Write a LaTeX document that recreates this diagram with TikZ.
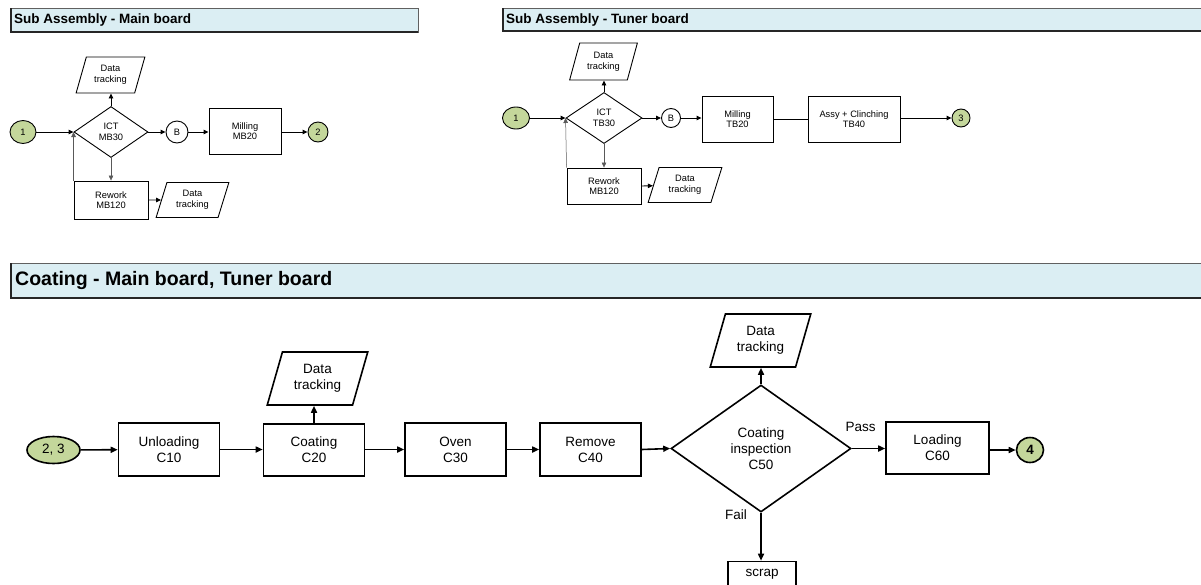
\documentclass[tikz,border=0pt]{standalone}
\usepackage{fontspec}
\setmainfont{Liberation Sans}
\usepackage{tikz}
\usetikzlibrary{arrows.meta,shapes.geometric}
\usepackage{xcolor}
\definecolor{hdrblue}{RGB}{219,238,243}
\definecolor{termgreen}{RGB}{196,215,155}

\begin{document}
\begin{tikzpicture}[x=1pt,y=1pt,yscale=-1,
  hdr/.style={fill=hdrblue,draw=gray!75!black,line width=0.7pt},
  hdrtext/.style={anchor=west,inner sep=0pt,font=\bfseries\fontsize{13.5}{15}\selectfont},
  sfont/.style={font=\fontsize{9.3}{10.6}\selectfont},
  sbox/.style={draw,sfont,line width=0.9pt,align=center,inner sep=1pt},
  sdec/.style={draw,diamond,sfont,line width=0.9pt,align=center,inner sep=0pt},
  sdata/.style={draw,trapezium,trapezium left angle=70,trapezium right angle=110,trapezium stretches=true,sfont,line width=0.9pt,align=center,inner sep=0pt},
  sterm/.style={draw,ellipse,fill=termgreen,sfont,line width=0.9pt,inner sep=0pt},
  sjoin/.style={draw,circle,sfont,line width=0.9pt,inner sep=0pt},
  sarr/.style={-{Triangle[length=5pt,width=4.5pt]},line width=0.9pt},
  sthin/.style={-{Triangle[length=5pt,width=4.5pt]},line width=0.5pt,draw=gray!70!black},
  cfont/.style={font=\fontsize{13.5}{16}\selectfont},
  cbox/.style={draw,cfont,line width=1.6pt,align=center,inner sep=1pt,minimum width=101pt,minimum height=53pt},
  cdec/.style={draw,diamond,cfont,line width=1.6pt,align=center,inner sep=0pt},
  cdata/.style={draw,trapezium,trapezium left angle=70,trapezium right angle=110,trapezium stretches=true,cfont,line width=1.6pt,align=center,inner sep=0pt,minimum width=101pt,minimum height=53pt},
  cterm/.style={draw,ellipse,fill=termgreen,cfont,line width=1.6pt,inner sep=0pt},
  carr/.style={-{Triangle[length=7pt,width=6pt]},line width=1.6pt},
]
\useasboundingbox (0,0) rectangle (1201,584);
\clip (0,0) rectangle (1201,584);

%Header: Sub Assembly - Main board
\draw [hdr] (11,8) rectangle (418,32);
\draw [line width=1.2pt,gray!30!black] (11,8) -- (11,32) -- (418,32);
\node [hdrtext] (hmb) at (14,20) {Sub Assembly - Main board};

%Main board nodes
\node [sterm,minimum width=26pt,minimum height=23pt] (mbin) at (23,132) {1};
\node [sdec,minimum width=74pt,minimum height=51pt] (mbict) at (111,132) {ICT\\MB30};
\node [sdata,minimum width=69pt,minimum height=36pt] (mbdta) at (110.5,75) {Data\\tracking};
\node [sjoin,minimum size=22pt] (mbb) at (177,132) {B};
\node [sbox,minimum width=72pt,minimum height=46pt] (mbmill) at (245,131) {Milling\\MB20};
\node [sterm,minimum width=20pt,minimum height=20pt] (mbout) at (318,132) {2};
\node [sbox,minimum width=74pt,minimum height=38pt] (mbrw) at (111,200) {Rework\\MB120};
\node [sdata,minimum width=73pt,minimum height=35pt] (mbdtb) at (192.5,200) {Data\\tracking};

%Main board connectors
\draw [sarr] (mbin) -- (mbict.west);
\draw [sarr] (mbict.north) -- (mbict.north |- mbdta.south);
\draw [sarr] (mbict.east) -- (mbb.west);
\draw [sarr] (mbb.east) -- (mbmill.west |- mbb.east);
\draw [sarr] (mbmill.east |- mbout.west) -- (mbout.west);
\draw [sthin] (mbict.south) -- (mbrw.north);
\draw [sthin] (mbrw.north west) -- (mbict.west);
\draw [sarr] (mbrw.east) -- (mbdtb);

%Header: Sub Assembly - Tuner board
\draw [hdr] (503,8) rectangle (1206,31);
\draw [line width=1.2pt,gray!30!black] (503,8) -- (503,31) -- (1206,31);
\node [hdrtext] (htb) at (506,20) {Sub Assembly - Tuner board};

%Tuner board nodes
\node [sterm,minimum width=27pt,minimum height=22pt] (tbin) at (516,118) {1};
\node [sdec,minimum width=76pt,minimum height=51pt] (tbict) at (604,118) {ICT\\TB30};
\node [sdata,minimum width=68pt,minimum height=37pt] (tbdta) at (603.5,61.5) {Data\\tracking};
\node [sjoin,minimum size=19pt] (tbb) at (671,118) {B};
\node [sbox,minimum width=71pt,minimum height=46pt] (tbmill) at (737.5,119) {Milling\\TB20};
\node [sbox,minimum width=92pt,minimum height=46pt] (tbassy) at (854,119) {Assy + Clinching\\TB40};
\node [sterm,minimum width=18pt,minimum height=18pt] (tbout) at (961,118) {3};
\node [sbox,minimum width=74pt,minimum height=36pt] (tbrw) at (604,186) {Rework\\MB120};
\node [sdata,minimum width=74pt,minimum height=35pt] (tbdtb) at (685,185) {Data\\tracking};

%Tuner board connectors
\draw [sarr] (tbin) -- (tbict.west);
\draw [sarr] (tbict.north) -- (tbict.north |- tbdta.south);
\draw [sarr] (tbict.east) -- (tbb.west);
\draw [sarr] (tbb.east) -- (tbmill.west |- tbb.east);
\draw [line width=0.9pt] (tbmill.east) -- (tbassy.west);
\draw [sarr] (tbassy.east |- tbout.west) -- (tbout.west);
\draw [sthin] (tbict.south) -- (tbrw.north);
\draw [sthin] (tbrw.north west) -- (tbict.west);
\draw [sarr] (tbrw.east) -- (tbdtb);

%Header: Coating
\draw [hdr] (11,263) rectangle (1206,298);
\draw [line width=1.5pt,gray!30!black] (11,263) -- (11,298) -- (1206,298);
\node [hdrtext,font=\bfseries\fontsize{19.5}{22}\selectfont] (hco) at (15,280) {Coating - Main board, Tuner board};

%Coating nodes
\node [cterm,minimum width=53pt,minimum height=27pt] (cin) at (53.5,450) {2, 3};
\node [cbox] (cunl) at (169,449.5) {Unloading\\C10};
\node [cbox,minimum height=52pt] (ccoat) at (314,450) {Coating\\C20};
\node [cdata] (cdta) at (317.5,378.5) {Data\\tracking};
\node [cbox] (coven) at (455.5,449.5) {Oven\\C30};
\node [cbox] (crem) at (590.5,449.5) {Remove\\C40};
\node [cdec,minimum width=180pt,minimum height=127pt] (cinsp) at (761,448.5) {Coating\\inspection\\C50};
\node [cdata] (cdtb) at (760.5,340.5) {Data\\tracking};
\node [cbox,minimum width=103pt,minimum height=52pt] (cload) at (937.5,448) {Loading\\C60};
\node [cterm,minimum width=27pt,minimum height=25pt,font=\bfseries\fontsize{13.5}{16}\selectfont] (cout) at (1030,450) {4};
\node [cbox,minimum width=68pt,minimum height=25pt] (cscrap) at (762,574) {scrap};
\node [cfont,inner sep=0pt] (lpass) at (860.5,427) {Pass};
\node [cfont,inner sep=0pt] (lfail) at (736,515) {Fail};

%Coating connectors
\draw [carr] (cin) -- (cunl);
\draw [carr] (cunl) -- (ccoat.west |- cunl.east);
\draw [carr] (ccoat.north) -- (ccoat.north |- cdta.south);
\draw [carr] (ccoat.east |- coven.west) -- (coven.west);
\draw [carr] (coven) -- (crem);
\draw [carr] (crem.east) -- (cinsp.west);
\draw [carr] (cinsp.north) -- (cinsp.north |- cdtb.south);
\draw [carr] (cinsp.east) -- (cload.west |- cinsp.east);
\draw [carr] (cload.east |- cout.west) -- (cout.west);
\draw [carr] (cinsp.south) -- (cinsp.south |- cscrap.north);

\end{tikzpicture}
\end{document}
